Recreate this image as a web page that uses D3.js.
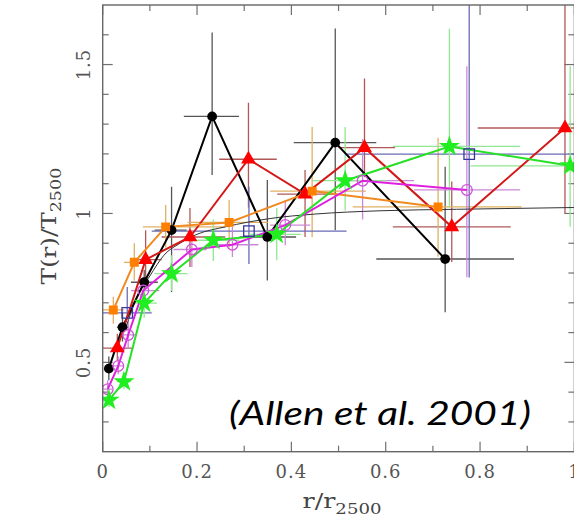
<!DOCTYPE html>
<html>
<head>
<meta charset="utf-8">
<script src="https://cdn.jsdelivr.net/npm/d3@7"></script>
<style>
  body { margin: 0; background: #fff; }
  svg { display: block; }
</style>
</head>
<body>
<div id="chart"></div>
<script>
// axis ticks
const xMajor = [0, 0.2, 0.4, 0.6, 0.8, 1];
const xMinor = [0.1, 0.3, 0.5, 0.7, 0.9];
const yMajor = [0.5, 1, 1.5];
const yMinor = [0.3, 0.4, 0.6, 0.7, 0.8, 0.9, 1.1, 1.2, 1.3, 1.4, 1.6];

// each point: [x, y, xlo, xhi, ylo, yhi]
const blackPts = [
  [0.013, 0.479, 0.003, 0.025, 0.44, 0.52],
  [0.042, 0.618, 0.03, 0.055, 0.57, 0.67],
  [0.088, 0.769, 0.06, 0.117, 0.73, 0.81],
  [0.146, 0.944, 0.11, 0.178, 0.736, 1.09],
  [0.232, 1.326, 0.172, 0.289, 1.129, 1.608],
  [0.349, 0.921, 0.29, 0.41, 0.775, 1.112],
  [0.493, 1.238, 0.405, 0.58, 0.944, 1.621],
  [0.726, 0.847, 0.58, 0.872, 0.668, 1.157]
];
const redPts = [
  [0.031, 0.548, 0.0, 0.065, 0.505, 0.596],
  [0.091, 0.845, 0.061, 0.125, 0.775, 0.944],
  [0.185, 0.921, 0.125, 0.26, 0.82, 1.018],
  [0.309, 1.182, 0.247, 0.369, 1.02, 1.372],
  [0.429, 1.065, 0.37, 0.49, 0.921, 1.146],
  [0.555, 1.221, 0.5, 0.62, 1.122, 1.453],
  [0.740, 0.955, 0.615, 0.865, 0.837, 1.107],
  [0.980, 1.287, 0.795, 1.05, 1.0, 1.75]
];
const orangePts = [
  [0.0225, 0.676, 0.0, 0.045, 0.63, 0.72],
  [0.067, 0.836, 0.045, 0.09, 0.775, 0.90],
  [0.1335, 0.955, 0.085, 0.26, 0.886, 1.028],
  [0.268, 0.970, 0.18, 0.35, 0.886, 1.045],
  [0.444, 1.075, 0.355, 0.558, 0.92, 1.29],
  [0.711, 1.022, 0.53, 0.888, 0.855, 1.254]
];
const bluePts = [
  [0.052, 0.666, 0.0, 0.104, 0.651, 0.753],
  [0.310, 0.941, 0.104, 0.517, 0.83, 1.09],
  [0.777, 1.199, 0.517, 1.05, 0.785, 1.8]
];
const magentaPts = [
  [0.0106, 0.41, 0.0, 0.02, 0.38, 0.44],
  [0.033, 0.488, 0.02, 0.045, 0.46, 0.52],
  [0.054, 0.592, 0.04, 0.07, 0.55, 0.64],
  [0.086, 0.741, 0.06, 0.12, 0.70, 0.78],
  [0.189, 0.879, 0.15, 0.22, 0.82, 0.944],
  [0.275, 0.895, 0.22, 0.33, 0.854, 0.955],
  [0.387, 0.961, 0.355, 0.44, 0.893, 1.045],
  [0.551, 1.11, 0.50, 0.66, 0.98, 1.25],
  [0.772, 1.079, 0.66, 0.885, 0.786, 1.494]
];
const greenPts = [
  [0.0134, 0.373, 0.0, 0.025, 0.35, 0.40],
  [0.045, 0.435, 0.03, 0.06, 0.41, 0.46],
  [0.088, 0.699, 0.06, 0.115, 0.65, 0.75],
  [0.146, 0.798, 0.11, 0.18, 0.74, 0.86],
  [0.2345, 0.91, 0.18, 0.29, 0.84, 0.98],
  [0.369, 0.930, 0.31, 0.42, 0.843, 1.018],
  [0.514, 1.11, 0.446, 0.60, 1.01, 1.29],
  [0.735, 1.225, 0.615, 0.885, 1.02, 1.62],
  [0.991, 1.16, 0.78, 1.05, 0.955, 1.494]
];
// thin model curve
const modelX = [0.05, 0.07, 0.1, 0.13, 0.164, 0.2, 0.26, 0.355, 0.45, 0.588, 0.75, 1.0];
const modelY = [0.62, 0.71, 0.79, 0.86, 0.90, 0.93, 0.955, 0.983, 0.998, 1.009, 1.014, 1.02];

const series = [
  { pts: blackPts,   line: "#000",    err: "#555",    mark: d3.symbolCircle,   size: 75,  fill: "#000",    stroke: "none" },
  { pts: redPts,     line: "#d41818", err: "#b05858", mark: d3.symbolTriangle, size: 95,  fill: "#ff0000", stroke: "none" },
  { pts: orangePts,  line: "#f08a20", err: "#e0b060", mark: d3.symbolSquare,   size: 80,  fill: "#ff8000", stroke: "none" },
  { pts: bluePts,    line: "#3030a0", err: "#6a6ab8", mark: d3.symbolSquare,   size: 110, fill: "none",    stroke: "#3535a0", noLine: true },
  { pts: magentaPts, line: "#e020e0", err: "#cc88d8", mark: d3.symbolCircle,   size: 90,  fill: "none",    stroke: "#d050d8" },
  { pts: greenPts,   line: "#28e028", err: "#90e890", mark: d3.symbolStar,     size: 140, fill: "#20ee20", stroke: "none" }
];

const W = 574, H = 521;
const svg = d3.select("#chart").append("svg")
  .attr("width", W).attr("height", H);

const x = d3.scaleLinear().domain([0, 1]).range([102.7, 574.4]);
const y = d3.scaleLinear().domain([0.2, 1.7]).range([451.7, 5]);

svg.append("clipPath").attr("id", "plotclip")
  .append("rect")
  .attr("x", x(0)).attr("y", y(1.7))
  .attr("width", x(1) - x(0)).attr("height", y(0.2) - y(1.7));

const tickCol = "#707070";

// ticks on four sides
function ticks(vals, len) {
  vals.forEach(v => {
    svg.append("line").attr("x1", x(v)).attr("x2", x(v))
      .attr("y1", y(0.2)).attr("y2", y(0.2) - len)
      .attr("stroke", tickCol).attr("stroke-width", 1.2);
    svg.append("line").attr("x1", x(v)).attr("x2", x(v))
      .attr("y1", y(1.7)).attr("y2", y(1.7) + len)
      .attr("stroke", tickCol).attr("stroke-width", 1.2);
  });
}
function yticks(vals, len) {
  vals.forEach(v => {
    svg.append("line").attr("x1", x(0)).attr("x2", x(0) + len)
      .attr("y1", y(v)).attr("y2", y(v))
      .attr("stroke", tickCol).attr("stroke-width", 1.2);
    svg.append("line").attr("x1", x(1)).attr("x2", x(1) - len)
      .attr("y1", y(v)).attr("y2", y(v))
      .attr("stroke", tickCol).attr("stroke-width", 1.2);
  });
}
ticks(xMajor, 10);
ticks(xMinor, 6);
yticks(yMajor, 10);
yticks(yMinor, 6);

// tick labels
svg.selectAll(".xl").data(xMajor).enter().append("text")
  .attr("x", d => x(d)).attr("y", 478)
  .attr("text-anchor", "middle")
  .style("font-family", "DejaVu Serif").style("font-size", "18px")
  .style("letter-spacing", "1px").attr("fill", "#555")
  .text(d => d3.format("")(d));

svg.selectAll(".yl").data(yMajor).enter().append("text")
  .attr("transform", d => "translate(90," + y(d) + ") rotate(-90)")
  .attr("text-anchor", "middle")
  .style("font-family", "DejaVu Serif").style("font-size", "18px")
  .style("letter-spacing", "1px").attr("fill", "#555")
  .text(d => d3.format("")(d));

// plot content
const plot = svg.append("g").attr("clip-path", "url(#plotclip)");

// error bars
series.forEach(s => {
  const g = plot.append("g").attr("stroke", s.err).attr("stroke-width", 1.3);
  g.selectAll(".h").data(s.pts).enter().append("line")
    .attr("x1", d => x(d[2])).attr("x2", d => x(d[3]))
    .attr("y1", d => y(d[1])).attr("y2", d => y(d[1]));
  g.selectAll(".v").data(s.pts).enter().append("line")
    .attr("x1", d => x(d[0])).attr("x2", d => x(d[0]))
    .attr("y1", d => y(d[4])).attr("y2", d => y(d[5]));
});

// model curve
plot.append("path")
  .datum(modelX.map((v, i) => [v, modelY[i]]))
  .attr("fill", "none").attr("stroke", "#333").attr("stroke-width", 1)
  .attr("d", d3.line().x(d => x(d[0])).y(d => y(d[1])).curve(d3.curveMonotoneX));

// series lines
const line = d3.line().x(d => x(d[0])).y(d => y(d[1]));
series.forEach(s => {
  if (s.noLine) return;
  plot.append("path").datum(s.pts)
    .attr("fill", "none").attr("stroke", s.line).attr("stroke-width", 2)
    .attr("d", line);
});

// markers
series.forEach(s => {
  plot.selectAll(null).data(s.pts).enter().append("path")
    .attr("transform", d => "translate(" + x(d[0]) + "," + y(d[1]) + ")")
    .attr("d", d3.symbol().type(s.mark).size(s.size))
    .attr("fill", s.fill).attr("stroke", s.stroke).attr("stroke-width", 1.3);
});

// frame
svg.append("rect")
  .attr("x", x(0)).attr("y", y(1.7))
  .attr("width", x(1) - x(0)).attr("height", y(0.2) - y(1.7))
  .attr("fill", "none").attr("stroke", "#666").attr("stroke-width", 1.4);

// axis titles
function fitWidth(sel, target) {
  const w = sel.node().getBBox().width;
  return target / w;
}
const ylab = svg.append("text")
  .style("font-family", "DejaVu Serif").style("font-size", "21px")
  .attr("fill", "#444").attr("text-anchor", "middle");
ylab.append("tspan").text("T(r)/T");
ylab.append("tspan").attr("dy", 5).style("font-size", "15px").text("2500");
const sy = fitWidth(ylab, 117);
ylab.attr("transform", "translate(56,226) rotate(-90) scale(" + sy + ",1)");

const xlab = svg.append("text")
  .style("font-family", "DejaVu Serif").style("font-size", "21px")
  .attr("fill", "#444").attr("text-anchor", "middle");
xlab.append("tspan").text("r/r");
xlab.append("tspan").attr("dy", 6).style("font-size", "15px").text("2500");
const sx = fitWidth(xlab, 79);
xlab.attr("transform", "translate(342,508) scale(" + sx + ",1)");

// citation
svg.append("text")
  .attr("x", 229).attr("y", 425)
  .attr("textLength", 302).attr("lengthAdjust", "spacingAndGlyphs")
  .style("font-family", "Lato").style("font-style", "italic")
  .style("font-size", "33px").attr("fill", "#000")
  .text("(Allen et al. 2001)");
</script>
</body>
</html>
